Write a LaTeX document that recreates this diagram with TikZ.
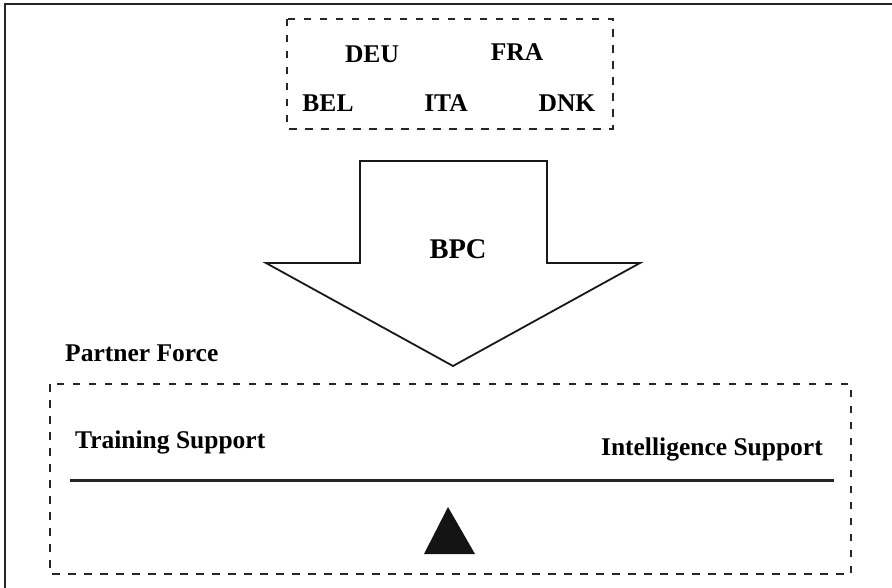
\documentclass[tikz,border=0pt]{standalone}
\usepackage{fontspec}
\setmainfont{Liberation Serif}
\begin{document}
\begin{tikzpicture}[x=1pt,y=-1pt,
  lbl/.style={font=\fontsize{25.5}{30}\selectfont\bfseries, inner sep=0pt, anchor=base},
  dashbox/.style={draw=black!85, line width=1.7pt, dash pattern=on 7.5pt off 8.5pt},
  shape line/.style={draw=black!90, line width=1.8pt, line join=miter}]
  \useasboundingbox (0,0) rectangle (892,588);

  % outer frame (runs past the right and bottom edges)
  \draw[line width=2pt, draw=black!85] (4.5,600) -- (4.5,4) -- (900,4);

  % contributing nations
  \draw[dashbox] (287,19) rectangle (613,129);
  \node[lbl] (deu) at (372,62.5) {DEU};
  \node[lbl] (fra) at (517,60.5) {FRA};
  \node[lbl] (bel) at (328,112) {BEL};
  \node[lbl] (ita) at (446,112) {ITA};
  \node[lbl] (dnk) at (567,112) {DNK};

  % BPC block arrow
  \coordinate (shaftL) at (360,161);
  \coordinate (shaftR) at (547,161);
  \coordinate (tip) at (453,366);
  \draw[shape line] (shaftL) -- (shaftR) -- (547,263) -- (640,263) -- (tip)
        -- (266,263) -- (360,263) -- cycle;
  \node[lbl, font=\fontsize{28.5}{32}\selectfont\bfseries] (bpc) at (458,259) {BPC};

  % partner force
  \node[lbl, anchor=base west] (pf) at (65,361) {Partner Force};
  \draw[dashbox] (50,384) rectangle (851,574);
  \node[lbl, anchor=base west] (train) at (75,448) {Training Support};
  \node[lbl, anchor=base east] (intel) at (823,455) {Intelligence Support};

  % balance beam and fulcrum
  \coordinate (beamL) at (70,480);
  \coordinate (beamR) at (834,480);
  \draw[line width=3pt, draw=black!85] (beamL) -- (beamR);
  \coordinate (fulcrum) at (448,507);
  \fill[black!92] (fulcrum) -- (475,554) -- (424,554) -- cycle;
\end{tikzpicture}
\end{document}
